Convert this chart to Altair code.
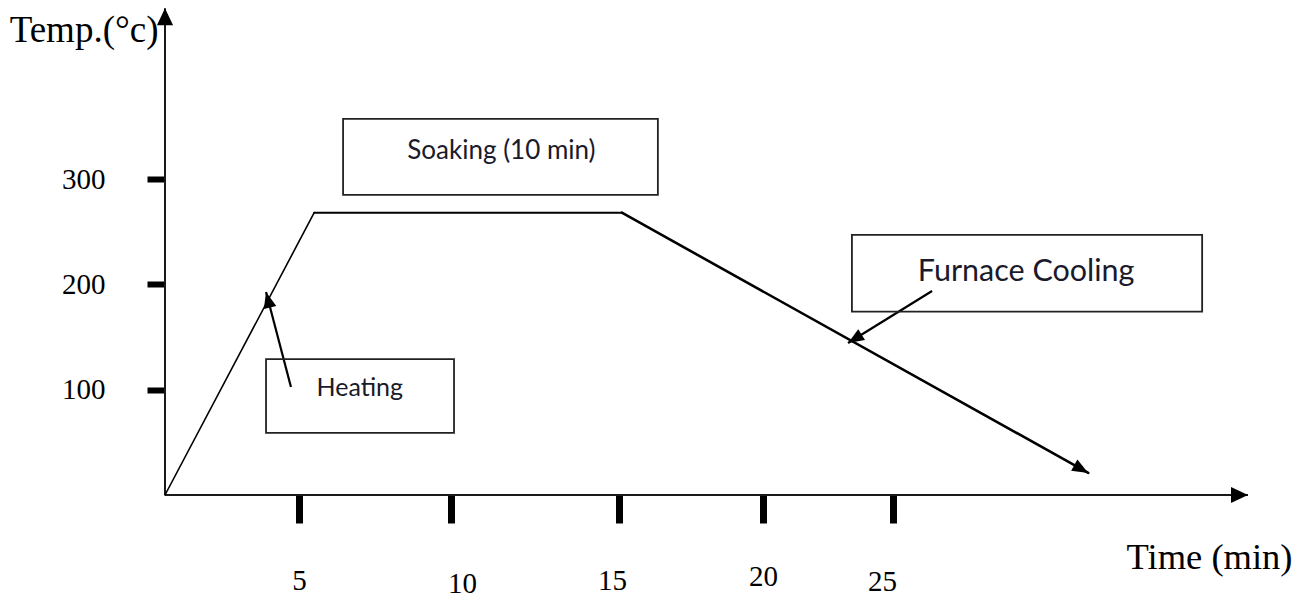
import math
import numpy as np
import pandas as pd
import altair as alt

# ---------------- values ----------------
time_min = [0, 5.5, 15.1, 31.6]          # heating -> soaking -> furnace cooling
temp_c = [0, 268, 268, 21]
x_tick_values = [5, 10, 15, 20, 25]
y_tick_values = [100, 200, 300]
x_axis_end = 37
y_axis_end = 462

box_labels = ["Soaking (10 min)", "Heating", "Furnace Cooling"]
box_t_from = [6.45, 3.77, 23.42]
box_t_to = [16.35, 10.09, 35.45]
box_c_from = [285, 59, 174]
box_c_to = [357, 129, 247]
label_t = [11.5, 7.0, 29.5]
label_c = [326.6, 101.6, 211.7]
label_size = [26, 25, 30.5]

arrow_t_from = [4.70, 26.32]
arrow_c_from = [102.5, 193.7]
arrow_t_to = [3.77, 23.27]
arrow_c_to = [192.7, 144.3]

# ---------------- layout / scales (hand-drawn, uneven time axis) ----------------
W, H = 1083, 487
X_DOMAIN = [0, 5, 10, 15, 20, 25, x_axis_end]
X_RANGE = [0, 134, 286, 454, 598, 728, W]
Y_DOMAIN = [0, 300]
Y_RANGE = [H, 171]

# hand-placed tick labels: small horizontal / vertical nudges seen in the drawing
X_LABEL_DX = [0, 11, -7, 0, -11]
X_LABEL_DY = [0, 3, 0, -4, 1]


def to_px(t, c):
    x = float(np.interp(t, X_DOMAIN, X_RANGE))
    y = Y_RANGE[0] + (c - Y_DOMAIN[0]) * (Y_RANGE[1] - Y_RANGE[0]) / (Y_DOMAIN[1] - Y_DOMAIN[0])
    return x, y


def angle_deg(t0, c0, t1, c1):
    x0, y0 = to_px(t0, c0)
    x1, y1 = to_px(t1, c1)
    return math.degrees(math.atan2(y1 - y0, x1 - x0)) % 360


SERIF = "Liberation Serif"
SANS = "Lato"

xscale = alt.Scale(domain=X_DOMAIN, range=X_RANGE, zero=False, nice=False)
yscale = alt.Scale(domain=Y_DOMAIN, range=Y_RANGE, zero=False, nice=False)

BASE_PAD = 43
label_offset = {
    "condition": [{"test": f"datum.value == {v}", "value": d}
                  for v, d in zip(x_tick_values, X_LABEL_DX) if d != 0],
    "value": 0,
}
label_padding = {
    "condition": [{"test": f"datum.value == {v}", "value": BASE_PAD + d}
                  for v, d in zip(x_tick_values, X_LABEL_DY) if d != 0],
    "value": BASE_PAD,
}

xaxis = alt.Axis(
    values=x_tick_values, orient="bottom", domain=False, grid=False,
    tickSize=28, tickWidth=7, tickColor="black", labelFlush=False, labelOverlap=False,
    labelFont=SERIF, labelFontSize=29, labelColor="black",
    labelPadding=label_padding, labelOffset=label_offset, labelAngle=0,
    title="Time (min)", titleFont=SERIF, titleFontSize=36.5, titleFontWeight="normal",
    titleColor="black", titleAlign="right", titleBaseline="alphabetic",
    titleX=1127, titleY=73,
)
yaxis = alt.Axis(
    values=y_tick_values, orient="left", domain=False, grid=False,
    tickSize=18, tickWidth=6, tickColor="black", labelFlush=False, labelOverlap=False,
    labelFont=SERIF, labelFontSize=29, labelColor="black", labelPadding=42,
    title="Temp.(°c)", titleFont=SERIF, titleFontSize=37, titleFontWeight="normal",
    titleColor="black", titleAngle=0, titleAlign="right", titleBaseline="alphabetic",
    titleX=-7, titleY=33,
)


def X(f):
    return alt.X(f, type="quantitative", scale=xscale, axis=xaxis)


def Y(f):
    return alt.Y(f, type="quantitative", scale=yscale, axis=yaxis)


# ---------------- tables built from the arrays ----------------
axes_df = pd.DataFrame({"t": [0, 0], "c": [0, 0], "t2": [x_axis_end, 0], "c2": [0, y_axis_end]})
axis_heads = pd.DataFrame({"t": [x_axis_end, 0], "c": [0, y_axis_end], "angle": [0, 270]})

seg_df = pd.DataFrame({
    "t": time_min[:-1], "c": temp_c[:-1], "t2": time_min[1:], "c2": temp_c[1:],
    "w": [1.6, 2.0, 2.6],
})

arrow_df = pd.DataFrame({"t": arrow_t_from, "c": arrow_c_from, "t2": arrow_t_to, "c2": arrow_c_to})

head_t = [time_min[-1]] + arrow_t_to
head_c = [temp_c[-1]] + arrow_c_to
head_angle = [angle_deg(time_min[-2], temp_c[-2], time_min[-1], temp_c[-1])] + [
    angle_deg(a, b, c, d) for a, b, c, d in zip(arrow_t_from, arrow_c_from, arrow_t_to, arrow_c_to)
]
heads_df = pd.DataFrame({"t": head_t, "c": head_c, "angle": head_angle})

box_df = pd.DataFrame({"t": box_t_from, "t2": box_t_to, "c": box_c_from, "c2": box_c_to})
text_df = pd.DataFrame({"label": box_labels, "t": label_t, "c": label_c, "fs": label_size})

HEAD_WIDE = "M0,0L-2,-0.95L-2,0.95Z"
HEAD = "M0,0L-2,-0.8L-2,0.8Z"

axes_lines = alt.Chart(axes_df).mark_rule(color="#1a1a1a", strokeWidth=2).encode(
    x=X("t"), y=Y("c"), x2="t2", y2="c2")
axes_heads = alt.Chart(axis_heads).mark_point(
    shape=HEAD_WIDE, filled=True, color="black", opacity=1, size=289, strokeWidth=0
).encode(x=X("t"), y=Y("c"), angle=alt.Angle("angle:Q", scale=None))

profile = alt.Chart(seg_df).mark_rule(color="black", strokeCap="round").encode(
    x=X("t"), y=Y("c"), x2="t2", y2="c2", strokeWidth=alt.StrokeWidth("w:Q", scale=None))

arrows = alt.Chart(arrow_df).mark_rule(color="black", strokeWidth=2.2).encode(
    x=X("t"), y=Y("c"), x2="t2", y2="c2")

heads = alt.Chart(heads_df).mark_point(
    shape=HEAD, filled=True, color="black", opacity=1, size=256, strokeWidth=0
).encode(x=X("t"), y=Y("c"), angle=alt.Angle("angle:Q", scale=None))

boxes = alt.Chart(box_df).mark_rect(fillOpacity=0, stroke="#222222", strokeWidth=1.8).encode(
    x=X("t"), x2="t2", y=Y("c"), y2="c2")

texts = alt.Chart(text_df).mark_text(font=SANS, color="#1a1a2a", align="center", baseline="middle").encode(
    x=X("t"), y=Y("c"), text="label:N", size=alt.Size("fs:Q", scale=None))

chart = alt.layer(axes_lines, axes_heads, profile, arrows, heads, boxes, texts).properties(
    width=W, height=H,
    padding={"left": 157, "top": 0, "right": 50, "bottom": 104},
    autosize=alt.AutoSizeParams(type="none"),
    background="white",
).configure_view(stroke=None)

chart.save("out.html", embed_options={"renderer": "svg", "actions": False})
